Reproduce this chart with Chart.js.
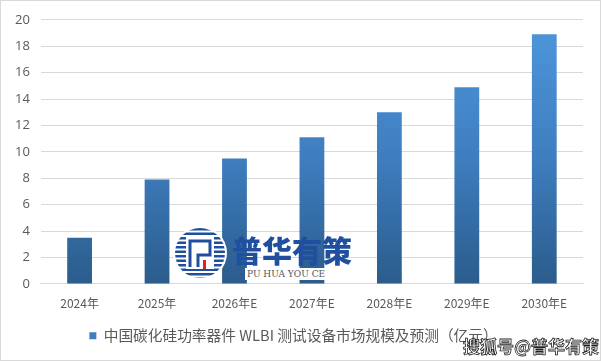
<!DOCTYPE html>
<html>
<head>
<meta charset="utf-8">
<script src="https://cdn.jsdelivr.net/npm/chart.js@4/dist/chart.umd.min.js"></script>
<style>
html,body{margin:0;padding:0;background:#fff;}
#wrap{position:relative;width:601px;height:361px;box-sizing:border-box;border:1px solid #d9d9d9;}
canvas{display:block;}
.wm{position:absolute;font-family:"Noto Sans CJK SC",sans-serif;white-space:nowrap;}
</style>
</head>
<body>
<div id="wrap">
<canvas id="c" width="599" height="359"></canvas>
<div class="wm" style="left:231px;top:229px;font-size:30px;font-weight:900;color:#1f4f9e;letter-spacing:0px;line-height:38px;">普华有策</div>
<div class="wm" style="left:244px;top:267px;font-size:9px;font-family:'DejaVu Serif',serif;color:#555;background:#fff;padding:0 2px;line-height:12px;">PU HUA YOU CE</div>
<div class="wm" style="left:462px;top:334px;font-size:17px;font-weight:700;color:#fff;-webkit-text-stroke:0.8px #222;line-height:22px;">搜狐号@普华有策</div>
</div>
<script>
const categories = ["2024年","2025年","2026年E","2027年E","2028年E","2029年E","2030年E"];
const values = [3.5, 7.9, 9.5, 11.1, 13.0, 14.9, 18.9];
const seriesName = "中国碳化硅功率器件 WLBI 测试设备市场规模及预测（亿元）";
const yTicks = [0,2,4,6,8,10,12,14,16,18,20];

function grad(ctx){
  const chart = ctx.chart; const a = chart.chartArea;
  if(!a) return '#4a8fd4';
  const g = chart.ctx.createLinearGradient(0, a.top, 0, a.bottom);
  g.addColorStop(0, '#4e96dc');
  g.addColorStop(0.5, '#3f7fc1');
  g.addColorStop(1, '#2b5c8c');
  return g;
}

const logoPlugin = {
  id:'logo',
  afterDraw(chart){
    const c = chart.ctx;
    const cx = 199, cy = 252, r = 25;
    c.save();
    c.fillStyle = '#fff';
    c.beginPath(); c.arc(cx, cy, r+2, 0, Math.PI*2); c.fill();
    c.beginPath(); c.arc(cx, cy, r, 0, Math.PI*2); c.clip();
    c.fillStyle = '#1f4f9e';
    for(let y = cy - r; y < cy + r; y += 4.5){
      c.fillRect(cx - r, y, 2*r, 2.5);
    }
    c.fillStyle = '#fff';
    c.fillRect(cx-14, cy-16, 28, 32);
    c.strokeStyle = '#1f4f9e'; c.lineWidth = 3;
    c.beginPath(); c.moveTo(cx-10, cy+14); c.lineTo(cx-10, cy-12); c.lineTo(cx+10, cy-12); c.lineTo(cx+10, cy+2); c.lineTo(cx-2, cy+2); c.lineTo(cx-2, cy+14); c.stroke();
    c.fillStyle = '#d22';
    c.fillRect(cx+3, cy+7, 3, 9);
    c.restore();
  }
};

new Chart(document.getElementById('c'), {
  type:'bar',
  data:{
    labels:categories,
    datasets:[{
      label:seriesName,
      data:values,
      backgroundColor:grad,
      borderWidth:0,
      barPercentage:0.32,
      categoryPercentage:1.0
    }]
  },
  options:{
    responsive:false,
    animation:false,
    layout:{padding:{left:3,right:17,top:6,bottom:7}},
    plugins:{
      legend:{
        position:'bottom',
        labels:{
          boxWidth:7, boxHeight:7,
          color:'#595959',
          font:{family:'"Noto Sans CJK SC", sans-serif', size:14.7},
          padding:14,
          generateLabels(chart){
            return [{text:seriesName, fillStyle:'#3f7fc1', strokeStyle:'#3f7fc1', lineWidth:0, datasetIndex:0, fontColor:'#595959'}];
          }
        }
      },
      tooltip:{enabled:false}
    },
    scales:{
      x:{
        grid:{display:false},
        border:{display:true,color:'#d9d9d9'},
        ticks:{color:'#595959',font:{family:'"Noto Sans CJK SC", sans-serif', size:12},padding:4}
      },
      y:{
        min:0,max:20,
        afterBuildTicks(axis){ axis.ticks = yTicks.map(v=>({value:v})); },
        grid:{color:'#d9d9d9',drawTicks:false},
        border:{display:false},
        ticks:{color:'#595959',font:{family:'"Open Sans", sans-serif', size:13},padding:11}
      }
    }
  },
  plugins:[logoPlugin]
});
</script>
</body>
</html>
